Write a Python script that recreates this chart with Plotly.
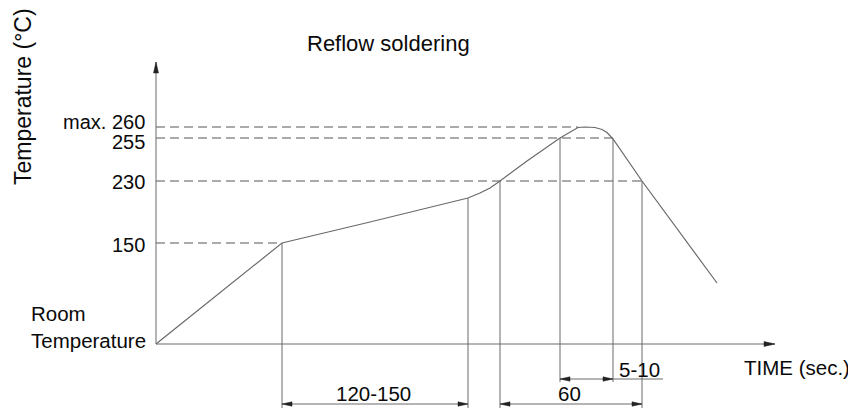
import plotly.graph_objects as go

# ---- schematic data (time units ~ px from origin, temperature heights schematic) ----
profile_time = [0, 126, 214, 312, 324, 334, 344, 371, 404, 414, 422, 429, 434, 439, 446, 451, 457, 486, 561]
profile_temp = [0, 101, 122, 146, 151, 156, 163, 183, 206, 212, 216.5, 217, 217, 216.5, 214.5, 211.5, 205, 163, 61]

level_labels = ["150", "230", "255", "max. 260"]
level_heights = [101, 163, 206, 217]
level_ends = [126, 486, 457, 422]          # where each dashed level meets the curve
label_heights = [99, 162, 202, 222.5]

# vertical extension lines: (time, top, bottom)
ext_time = [126, 312, 344, 404, 457, 486]
ext_top = [101, 146, 163, 206, 205, 163]
ext_bottom = [-64, -64, -64, -38, -38, -64]

# dimension arrows
dim_labels = ["120-150", "60", "5-10"]
dim_start = [126, 344, 404]
dim_end = [312, 486, 457]
dim_level = [-60, -60, -35]
dim_text_x = [217, 413, 483]
dim_text_y = [-49, -49, -25]
underline_end = 507

x_axis_end = 619
y_axis_end = 282

LINE = "#6a6a6a"
DASH = "#8e8e8e"
TXT = "#0a0a0a"
FONT = "Liberation Sans, Arial, sans-serif"

fig = go.Figure()

# dashed reference levels
for h, e in zip(level_heights, level_ends):
    fig.add_trace(go.Scatter(x=[0, e], y=[h, h], mode="lines",
                             line=dict(color=DASH, width=1.4, dash="9px,5px"), hoverinfo="skip"))

# extension lines
for t, top, bot in zip(ext_time, ext_top, ext_bottom):
    fig.add_trace(go.Scatter(x=[t, t], y=[top, bot], mode="lines",
                             line=dict(color=LINE, width=1), hoverinfo="skip"))

# axes
fig.add_trace(go.Scatter(x=[0, x_axis_end], y=[0, 0], mode="lines",
                         line=dict(color=LINE, width=1), hoverinfo="skip"))
fig.add_trace(go.Scatter(x=[0, 0], y=[0, y_axis_end], mode="lines",
                         line=dict(color=LINE, width=1), hoverinfo="skip"))

# profile curve
fig.add_trace(go.Scatter(x=profile_time, y=profile_temp, mode="lines",
                         line=dict(color=LINE, width=1.2), hoverinfo="skip"))

# dimension lines
for s, e, lv in zip(dim_start, dim_end, dim_level):
    fig.add_trace(go.Scatter(x=[s, e], y=[lv, lv], mode="lines",
                             line=dict(color=LINE, width=1), hoverinfo="skip"))
fig.add_trace(go.Scatter(x=[dim_end[2], underline_end], y=[dim_level[2], dim_level[2]], mode="lines",
                         line=dict(color=LINE, width=1), hoverinfo="skip"))


def head(tx, ty, dx, dy, length=10, half=2.2):
    # triangle with tip at (tx,ty), pointing in direction (dx,dy)
    bx, by = tx - dx * length, ty - dy * length
    px, py = -dy * half, dx * half
    return [tx, bx + px, bx - px, tx], [ty, by + py, by - py, ty]


heads = []
for s, e, lv in zip(dim_start, dim_end, dim_level):
    heads.append(head(s, lv, -1, 0))
    heads.append(head(e, lv, 1, 0))
heads.append(head(x_axis_end, 0, 1, 0, length=11, half=2.5))
heads.append(head(0, y_axis_end, 0, 1, length=11, half=2.5))
for hx, hy in heads:
    fig.add_trace(go.Scatter(x=hx, y=hy, mode="lines", fill="toself", fillcolor="#222222",
                             line=dict(color="#222222", width=0.5), hoverinfo="skip"))

# annotations
ann = []
for lab, y in zip(level_labels, label_heights):
    ann.append(dict(x=-9, y=y, text=lab, xanchor="right", yanchor="middle", showarrow=False,
                    font=dict(size=20, color=TXT, family=FONT)))
for lab, x, y in zip(dim_labels, dim_text_x, dim_text_y):
    ann.append(dict(x=x, y=y, text=lab, xanchor="center", yanchor="middle", showarrow=False))
ann.append(dict(x=641, y=-23, text="TIME (sec.)", xanchor="center", yanchor="middle", showarrow=False))
ann.append(dict(x=232, y=301, text="Reflow soldering", xanchor="center", yanchor="middle", showarrow=False,
                font=dict(size=22, color=TXT, family=FONT)))
ann.append(dict(x=-127, y=17, text="Room<br>Temperature", xanchor="left", yanchor="middle",
                align="left", showarrow=False))
ann.append(dict(x=-133, y=247, text="Temperature (°C)", textangle=-90, xanchor="center",
                yanchor="middle", showarrow=False, font=dict(size=23, color=TXT, family=FONT)))

# the page body adds an 8px offset, so the figure is sized/ranged to land on the same pixels
fig.update_layout(
    width=848, height=401, autosize=False,
    margin=dict(l=0, r=0, t=0, b=0),
    paper_bgcolor="white", plot_bgcolor="white",
    showlegend=False,
    font=dict(family=FONT, size=20.5, color=TXT),
    annotations=ann,
    xaxis=dict(range=[-148, 700], visible=False, fixedrange=True),
    yaxis=dict(range=[-65, 336], visible=False, fixedrange=True),
)

fig.write_html("out.html")
